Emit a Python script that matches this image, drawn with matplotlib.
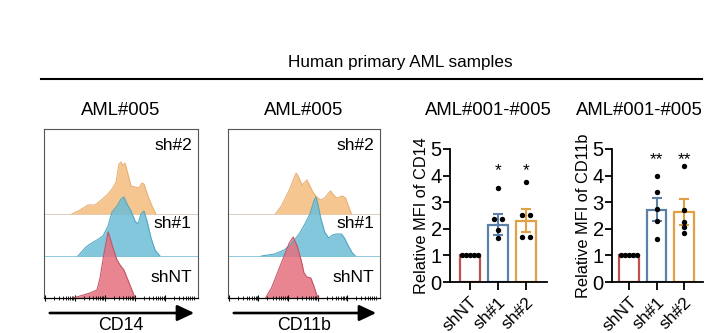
import numpy as np
import matplotlib.pyplot as plt
from matplotlib.lines import Line2D
from matplotlib.patches import FancyArrowPatch

plt.rcParams['font.family'] = ['Liberation Sans', 'DejaVu Sans']

W, H = 706, 333

# ---- flow histograms (AML#005), channel = position on display scale (0-100) ----
samples = ['shNT', 'sh#1', 'sh#2']

cd14_ch = {
    'shNT': [18.8, 23.4, 29.9, 34.4, 36.4, 39.0, 41.6, 42.9, 44.8, 47.4, 49.4, 51.9, 54.5, 57.1, 59.1],
    'sh#1': [22.1, 26.6, 29.9, 34.4, 38.3, 41.6, 44.2, 47.4, 50.0, 51.9, 53.9, 56.5, 59.1, 61.0,
             63.0, 64.9, 66.9, 69.5, 72.1, 75.3],
    'sh#2': [18.2, 23.4, 28.6, 33.1, 36.4, 40.9, 44.2, 46.8, 48.7, 50.0, 51.3, 52.6, 54.5, 56.5,
             59.1, 61.7, 63.6, 64.9, 67.5, 70.1, 72.7],
}
cd14_count = {
    'shNT': [0, 2, 5, 8, 20, 45, 66, 60, 50, 38, 33, 28, 18, 8, 0],
    'sh#1': [0, 8, 12, 16, 20, 30, 44, 50, 57, 59, 52, 45, 35, 32, 42, 45, 35, 18, 6, 0],
    'sh#2': [0, 4, 9, 9, 13, 19, 25, 32, 50, 52, 48, 51, 40, 28, 27, 26, 31, 30, 18, 8, 0],
}
cd11b_ch = {
    'shNT': [24.7, 28.6, 32.5, 36.4, 40.3, 42.9, 45.5, 48.1, 50.0, 51.9, 54.5, 56.5, 58.4, 59.7],
    'sh#1': [22.1, 30.5, 37.0, 41.6, 46.8, 50.6, 53.9, 56.5, 57.8, 59.1, 61.0, 63.6, 66.2, 68.8,
             71.4, 74.7, 76.6, 79.2, 81.8, 83.8],
    'sh#2': [31.2, 35.1, 37.7, 40.3, 42.9, 44.8, 46.1, 48.7, 50.6, 51.9, 53.9, 55.8, 58.4, 61.0,
             63.6, 66.2, 67.5, 69.5, 71.4, 73.4, 75.3, 77.3, 79.2, 81.2],
}
cd11b_count = {
    'shNT': [0, 10, 25, 40, 55, 61, 52, 38, 25, 21, 20, 12, 3, 0],
    'sh#1': [0, 2, 6, 12, 22, 32, 42, 55, 59, 52, 38, 24, 18, 21, 22, 22, 18, 10, 3, 0],
    'sh#2': [0, 8, 16, 24, 34, 41, 38, 29, 32, 34, 28, 22, 17, 14, 16, 21, 23, 19, 16, 17, 18,
             16, 8, 0],
}

# ---- relative MFI, AML#001-#005 ----
mfi_cd14_mean = [1.0, 2.15, 2.30]
mfi_cd14_sem = [0.0, 0.40, 0.43]
mfi_cd14_pts = [[1, 1, 1, 1, 1],
                [3.52, 2.35, 2.35, 1.95, 1.65],
                [3.75, 2.52, 2.52, 1.70, 1.70]]
mfi_cd14_sig = ['', '*', '*']

mfi_cd11b_mean = [1.0, 2.72, 2.63]
mfi_cd11b_sem = [0.0, 0.44, 0.48]
mfi_cd11b_pts = [[1, 1, 1, 1, 1],
                 [3.98, 3.40, 2.73, 2.29, 1.62],
                 [4.36, 2.71, 2.27, 2.06, 1.83]]
mfi_cd11b_sig = ['', '**', '**']

fill_col = {'shNT': '#e4707e', 'sh#1': '#6cbdd6', 'sh#2': '#f5c690'}
edge_col = {'shNT': '#c65566', 'sh#1': '#55a8c4', 'sh#2': '#e9b074'}
base_col = {'shNT': '#333333', 'sh#1': '#8fc9dc', 'sh#2': '#d9cfc4'}
bar_col = ['#c0504f', '#5b80aa', '#e0a043']

lane_offset = {'shNT': 0, 'sh#1': 42, 'sh#2': 84}
label_y = {'shNT': 20, 'sh#1': 74, 'sh#2': 152}


def px_axes(fig, left, top, right, bottom):
    return fig.add_axes([left / W, 1 - bottom / H, (right - left) / W, (bottom - top) / H])


fig = plt.figure(figsize=(W / 100, H / 100), dpi=100)

# header
fig.text(400 / W, 1 - 63 / H, 'Human primary AML samples', ha='center', va='center', fontsize=12.3)
fig.add_artist(Line2D([41 / W, 702 / W], [1 - 79 / H, 1 - 79 / H], color='black', lw=1.5))

# decade-style ticks along the histogram x axis
decades = [0.5, 20, 39.5, 59, 78.5]
minor_ticks = []
for d in decades:
    for k in range(2, 10):
        t = d + np.log10(k) * 19.5
        if t < 99.5:
            minor_ticks.append(t)


def histogram_panel(left, right, ch, count, marker):
    ax = px_axes(fig, left, 129, right, 298)
    for s in ['sh#2', 'sh#1', 'shNT']:
        off = lane_offset[s]
        x = np.array(ch[s])
        y = np.array(count[s]) + off
        alpha = 0.85 if s != 'sh#2' else 1.0
        ax.fill_between(x, off, y, color=fill_col[s], alpha=alpha, lw=0)
        ax.plot(x, y, color=edge_col[s], lw=0.8)
        if s != 'shNT':
            ax.axhline(off, color=base_col[s], lw=0.7, zorder=0)
        ax.text(96, label_y[s], s, ha='right', va='center', fontsize=12.5)
    ax.set_xlim(0, 100)
    ax.set_ylim(0, 169)
    ax.set_yticks([])
    ax.set_xticks(decades)
    ax.set_xticks(minor_ticks, minor=True)
    ax.set_xticklabels([])
    ax.tick_params(axis='x', which='major', direction='inout', length=4, width=0.8)
    ax.tick_params(axis='x', which='minor', direction='inout', length=2.5, width=0.6)
    for sp in ['left', 'right', 'top']:
        ax.spines[sp].set_color('#555555')
        ax.spines[sp].set_linewidth(0.8)
    ax.spines['bottom'].set_linewidth(0.9)
    cx = (left + right) / 2
    fig.text(cx / W, 1 - 111 / H, 'AML#005', ha='center', va='center', fontsize=13.3)
    fig.add_artist(FancyArrowPatch(
        ((left + 3) / W, 1 - 313 / H), ((right - 1) / W, 1 - 313 / H),
        transform=fig.transFigure, arrowstyle='-|>,head_length=0.85,head_width=0.4',
        mutation_scale=12, lw=1.9, color='black'))
    fig.text(cx / W, 1 - 326 / H, marker, ha='center', va='center', fontsize=12.8)


histogram_panel(44, 198, cd14_ch, cd14_count, 'CD14')
histogram_panel(228, 380, cd11b_ch, cd11b_count, 'CD11b')


def spread(vals):
    vals = np.asarray(vals, float)
    offs = np.zeros(len(vals))
    used = np.zeros(len(vals), bool)
    for i in range(len(vals)):
        if used[i]:
            continue
        grp = [j for j in range(len(vals)) if not used[j] and abs(vals[j] - vals[i]) < 0.08]
        n = len(grp)
        step = min(0.3, 0.72 / n)
        for k, j in enumerate(grp):
            offs[j] = (k - (n - 1) / 2) * step
            used[j] = True
    return offs


def mfi_panel(left, right, xlim, means, sems, pts, sig, sig_y, ylabel, title_x):
    ax = px_axes(fig, left, 149, right, 282)
    pos = np.arange(len(samples))
    ax.bar(pos, means, width=0.7, color='white', edgecolor=bar_col, linewidth=1.6, zorder=1)
    for i in pos:
        if sems[i] > 0:
            ax.errorbar(i, means[i], yerr=sems[i], color=bar_col[i], lw=1.5,
                        capsize=3.5, capthick=1.5, zorder=2)
        ax.scatter(i + spread(pts[i]), pts[i], s=15, color='black', zorder=3, lw=0)
        if sig[i]:
            ax.text(i, sig_y, sig[i], ha='center', va='center', fontsize=12.5)
    ax.set_xlim(*xlim)
    ax.set_ylim(0, 5)
    ax.set_yticks(range(6))
    ax.set_xticks(pos)
    ax.set_xticklabels(samples, rotation=45, ha='right', rotation_mode='anchor', fontsize=12.5)
    ax.tick_params(axis='y', labelsize=14.5, length=5, width=1.3, pad=1)
    ax.tick_params(axis='x', length=6, width=1.3, pad=3)
    for sp in ['top', 'right']:
        ax.spines[sp].set_visible(False)
    for sp in ['left', 'bottom']:
        ax.spines[sp].set_linewidth(1.3)
    ax.set_ylabel(ylabel, fontsize=11.8, labelpad=1)
    fig.text(title_x / W, 1 - 111 / H, 'AML#001-#005', ha='center', va='center', fontsize=13.3)


mfi_panel(450, 547, (-0.71, 2.75), mfi_cd14_mean, mfi_cd14_sem, mfi_cd14_pts, mfi_cd14_sig,
          4.2, 'Relative MFI of CD14', 488)
mfi_panel(612, 703, (-0.62, 2.69), mfi_cd11b_mean, mfi_cd11b_sem, mfi_cd11b_pts, mfi_cd11b_sig,
          4.6, 'Relative MFI of CD11b', 639)

fig.savefig('out.png', dpi=100)
